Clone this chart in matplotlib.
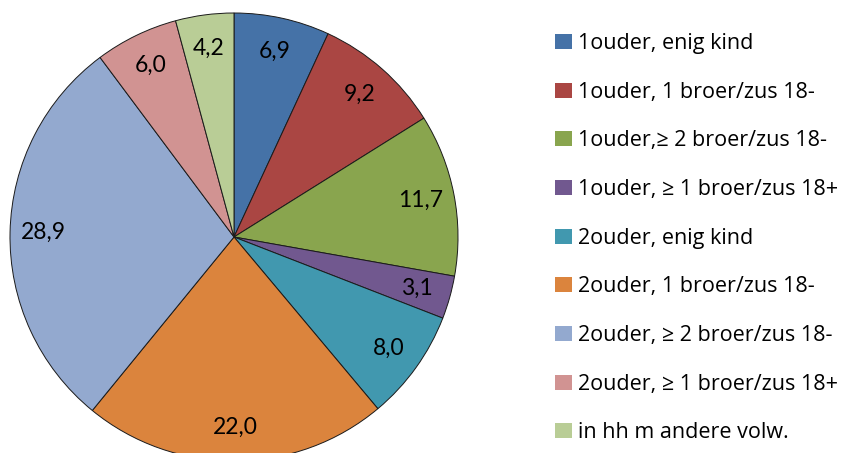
import matplotlib.pyplot as plt
from matplotlib.patches import Patch

# aandelen (%) per huishoudtype
labels = [
    "1ouder, enig kind",
    "1ouder, 1 broer/zus 18-",
    "1ouder,\u2265 2 broer/zus 18-",
    "1ouder, \u2265 1 broer/zus 18+",
    "2ouder, enig kind",
    "2ouder, 1 broer/zus 18-",
    "2ouder, \u2265 2 broer/zus 18-",
    "2ouder, \u2265 1 broer/zus 18+",
    "in hh m andere volw.",
]
values = [6.9, 9.2, 11.7, 3.1, 8.0, 22.0, 28.9, 6.0, 4.2]
colors = ["#4572A7", "#AA4643", "#89A54E", "#71588F", "#4198AF",
          "#DB843D", "#93A9CF", "#D19392", "#B9CD96"]

W, H = 849, 453
fig = plt.figure(figsize=(W / 100, H / 100), dpi=100)

# pie: centre ~ (234, 237) px, radius ~ 224 px (onderkant loopt net buiten beeld)
r_px = 224
cx, cy = 234, 237
ax = fig.add_axes([(cx - r_px) / W, (H - cy - r_px) / H, 2 * r_px / W, 2 * r_px / H])

wedges, texts = ax.pie(
    values,
    labels=[f"{v:.1f}".replace(".", ",") for v in values],
    colors=colors,
    startangle=90,
    counterclock=False,
    labeldistance=0.85,
    radius=1.0,
    wedgeprops=dict(edgecolor="#1a1a1a", linewidth=0.7),
    textprops=dict(fontsize=16.5, family=["Lato", "DejaVu Sans"], color="black"),
)
for t in texts:
    t.set_ha("center")
    t.set_va("center")
ax.set_xlim(-1, 1)
ax.set_ylim(-1, 1)
ax.set_aspect("equal")
ax.axis("off")

handles = [Patch(facecolor=c, edgecolor="none") for c in colors]
fig.legend(
    handles, labels,
    loc="upper left",
    bbox_to_anchor=(555 / W, 1 - 33 / H),
    frameon=False,
    prop=dict(family=["Open Sans", "DejaVu Sans"], size=15.5),
    handlelength=0.8,
    handleheight=0.7,
    handletextpad=0.25,
    labelspacing=1.285,
    borderaxespad=0,
    borderpad=0,
)

fig.savefig("out.png", dpi=100)
